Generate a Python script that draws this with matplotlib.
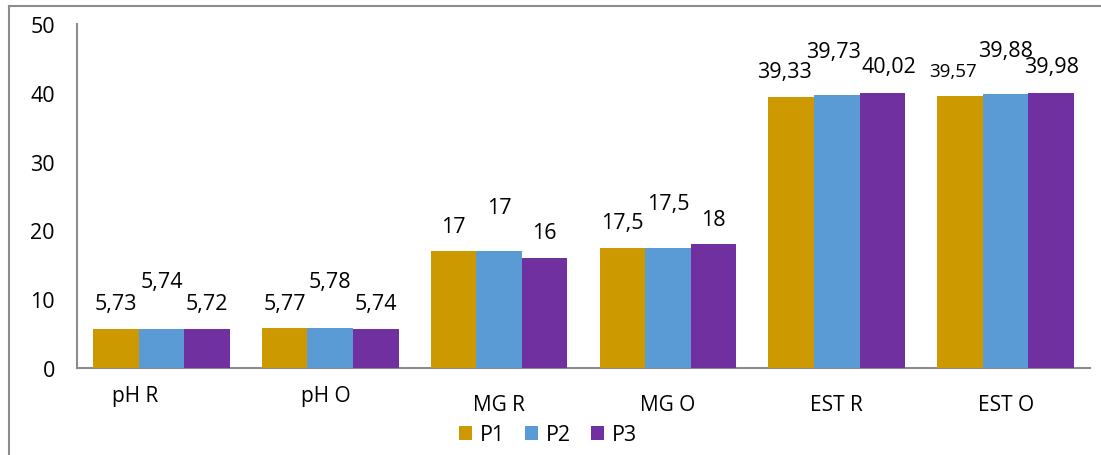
import matplotlib
matplotlib.use("Agg")
import matplotlib.pyplot as plt
import numpy as np
from matplotlib.lines import Line2D

plt.rcParams["font.family"] = ["Open Sans", "DejaVu Sans"]

categories = ["pH R", "pH O", "MG R", "MG O", "EST R", "EST O"]
series_names = ["P1", "P2", "P3"]
p1 = [5.73, 5.77, 17, 17.5, 39.33, 39.57]
p2 = [5.74, 5.78, 17, 17.5, 39.73, 39.88]
p3 = [5.72, 5.74, 16, 18, 40.02, 39.98]
labels_p1 = ["5,73", "5,77", "17", "17,5", "39,33", "39,57"]
labels_p2 = ["5,74", "5,78", "17", "17,5", "39,73", "39,88"]
labels_p3 = ["5,72", "5,74", "16", "18", "40,02", "39,98"]
colors = ["#CC9900", "#5B9BD5", "#7030A0"]

# label placement tweaks (points)
cat_dx = [-19, -3, 0, 0, 0, 0]
cat_dy = [-20, -20, -26, -26, -26, -26]
val_dx = [[0, 0, 0, 0, -5, -5], [0, 0, 0, 0, -2, 0], [0, 0, 0, 0, 5, 0]]
val_dy = [[18, 18, 18, 18, 19, 18], [34, 34, 31, 32, 31, 31], [18, 18, 18, 18, 19, 19]]

fig = plt.figure(figsize=(11.01, 4.56), dpi=100)
ax = fig.add_axes([77 / 1101, 87 / 456, (1090 - 77) / 1101, (369 - 25) / 456])

x = np.arange(len(categories))
width = 0.27
series = [p1, p2, p3]
texts = [labels_p1, labels_p2, labels_p3]
for i, (vals, labs, col) in enumerate(zip(series, texts, colors)):
    pos = x + (i - 1) * width
    ax.bar(pos, vals, width=width, color=col, label=series_names[i], zorder=3)
    for j, (px, v, t) in enumerate(zip(pos, vals, labs)):
        size = 13.5 if (i == 0 and j == 5) else 15.5
        ax.annotate(t, (px, v), xytext=(val_dx[i][j], val_dy[i][j]),
                    textcoords="offset points", ha="center", va="center", fontsize=size)

ax.set_xlim(-0.5, len(categories) - 0.5)
ax.set_ylim(0, 50)
ax.set_yticks(range(0, 51, 10))
ax.tick_params(axis="y", length=0, labelsize=15.5, pad=16)
ax.set_xticks([])
for side in ["top", "right"]:
    ax.spines[side].set_visible(False)
for side in ["left", "bottom"]:
    ax.spines[side].set_color("#8c8c8c")
    ax.spines[side].set_linewidth(1.5)

for j, cat in enumerate(categories):
    ax.annotate(cat, (x[j], 0), xycoords=("data", "axes fraction"),
                xytext=(cat_dx[j], cat_dy[j]), textcoords="offset points",
                ha="center", va="center", fontsize=15)

fig.legend(loc="center", bbox_to_anchor=(548 / 1101, 1 - 436 / 456), ncol=3,
           frameon=False, fontsize=15.5, handlelength=0.6, handleheight=0.6,
           handletextpad=0.4, columnspacing=0.9)

# chart area border (top and left only visible)
fig.add_artist(Line2D([9 / 1101, 9 / 1101], [0, 1 - 7 / 456], color="#8c8c8c", lw=1.5))
fig.add_artist(Line2D([9 / 1101, 1], [1 - 7 / 456, 1 - 7 / 456], color="#8c8c8c", lw=1.5))

fig.savefig("out.png", dpi=100)
